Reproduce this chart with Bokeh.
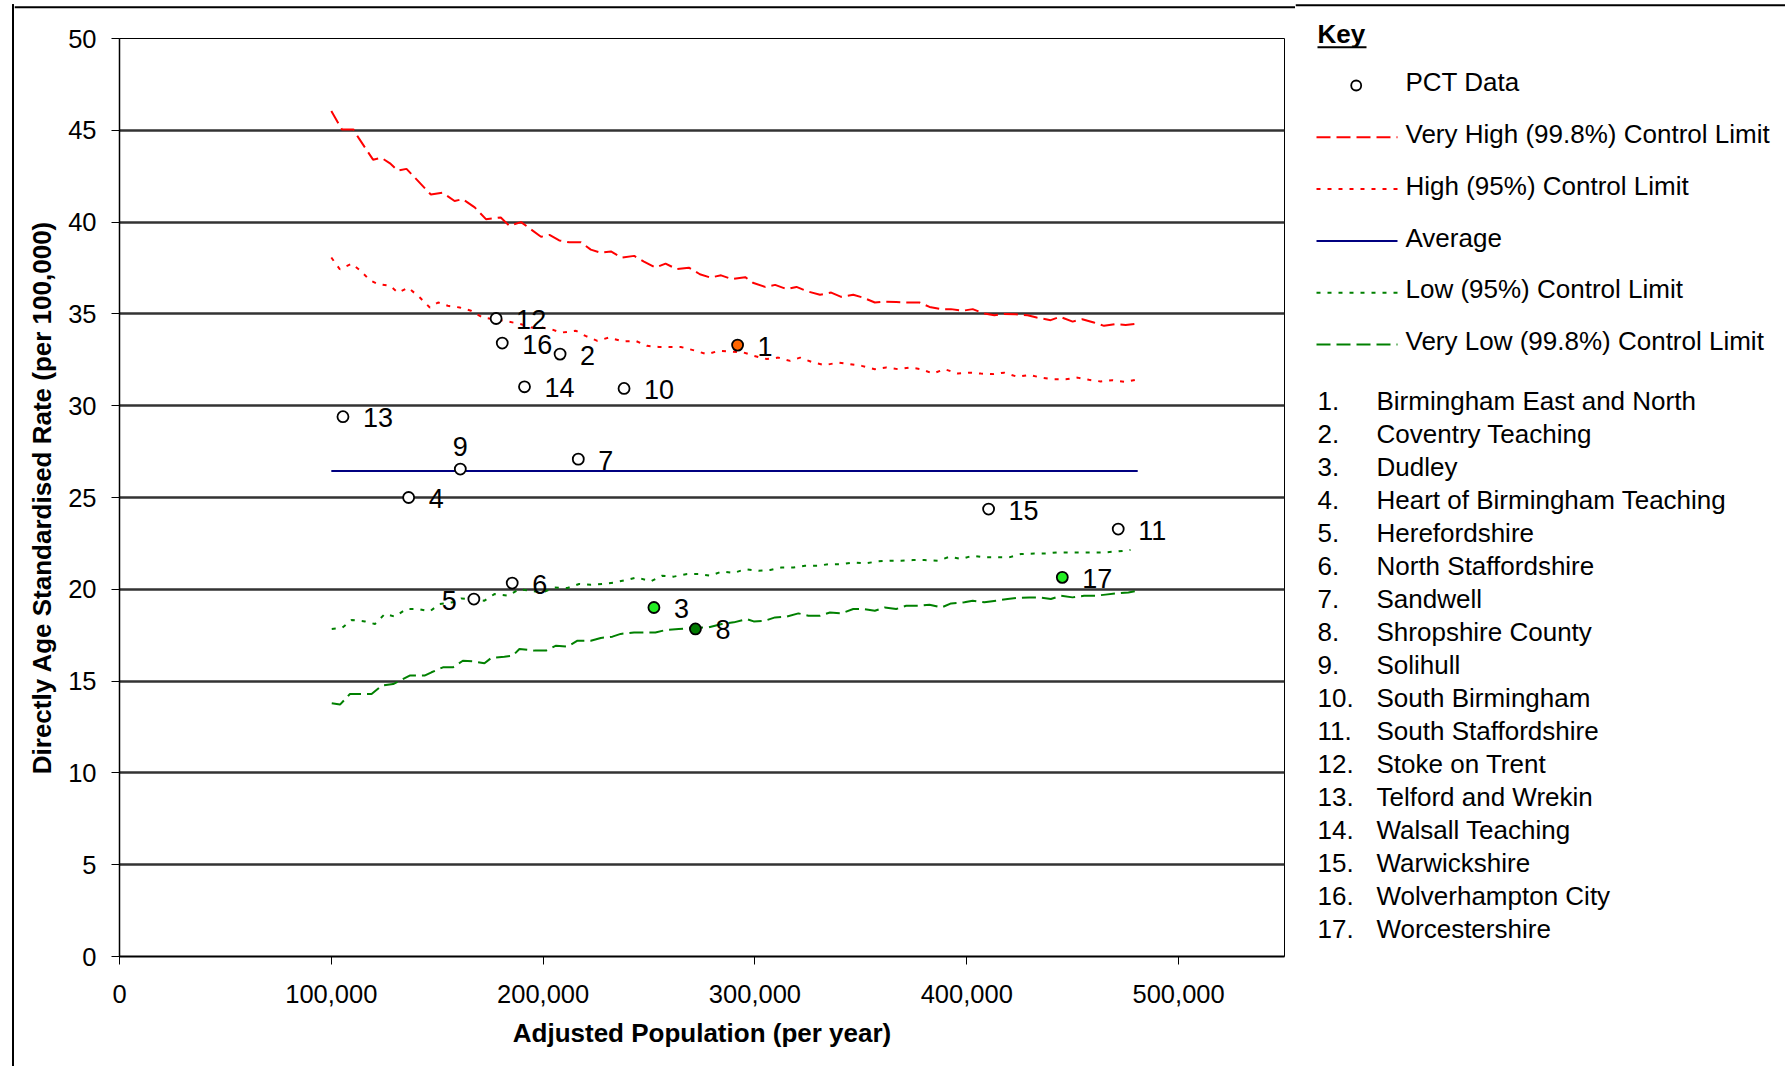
import numpy as np
from bokeh.plotting import figure
from bokeh.layouts import row, column
from bokeh.models import (ColumnDataSource, LabelSet, FixedTicker, NumeralTickFormatter, Range1d)
from bokeh.core.properties import value
from bokeh.embed import file_html
from bokeh.resources import INLINE

# ---------------- data ----------------
pct_ids = ["1", "2", "3", "4", "5", "6", "7", "8", "9", "10", "11", "12", "13", "14", "15", "16", "17"]
pct_names = ["Birmingham East and North", "Coventry Teaching", "Dudley", "Heart of Birmingham Teaching",
             "Herefordshire", "North Staffordshire", "Sandwell", "Shropshire County", "Solihull",
             "South Birmingham", "South Staffordshire", "Stoke on Trent", "Telford and Wrekin",
             "Walsall Teaching", "Warwickshire", "Wolverhampton City", "Worcestershire"]
pct_pop = [291800, 208000, 252300, 136500, 167300, 185400, 216600, 271900, 160900, 238200,
           471500, 177800, 105500, 191200, 410300, 180700, 445100]
pct_rate = [33.30, 32.81, 19.01, 25.00, 19.47, 20.34, 27.09, 17.84, 26.55, 30.94,
            23.28, 34.75, 29.40, 31.03, 24.37, 33.41, 20.65]
pct_fill = ["#FF6600", "white", "#22EE22", "white", "white", "white", "white", "#007A00", "white",
            "white", "white", "white", "white", "white", "white", "white", "#22EE22"]

avg_x = [100000, 480700]
avg_y = [26.45, 26.45]

vh_x = [100, 105, 110.4, 112.8, 119.7, 123.7, 127.7, 131.4, 135.5, 147, 152.6, 158.2, 162, 167.7, 173, 180, 184,
        189.6, 199, 203, 207.6, 212.3, 217.8, 222.5, 227, 232, 237, 243, 247.6, 253, 257.8, 263, 268.8, 274, 279,
        284, 289, 295.4, 299, 304.8, 309.5, 315, 319.6, 325, 330.7, 336, 340.7, 346.4, 351, 356.6, 361, 366.7,
        371.3, 377.7, 382.4, 388, 392.5, 398, 402.8, 408.3, 413, 417.7, 423, 428.7, 433, 439.6, 444, 450, 454.5,
        460, 464.8, 470.2, 475, 480.4]
vh_y = [46.05, 45.05, 45.05, 44.6, 43.4, 43.5, 43.2, 42.8, 42.9, 41.5, 41.6, 41.15, 41.25, 40.8, 40.16, 40.25, 39.8,
        40.0, 39.2, 39.3, 39.0, 38.9, 38.9, 38.5, 38.34, 38.4, 38.07, 38.16, 37.85, 37.52, 37.74, 37.44, 37.52, 37.16,
        36.98, 37.1, 36.9, 37.0, 36.7, 36.47, 36.58, 36.35, 36.47, 36.22, 36.04, 36.16, 35.93, 36.04, 35.89, 35.62,
        35.67, 35.65, 35.62, 35.62, 35.38, 35.26, 35.26, 35.17, 35.26, 35.02, 34.93, 35.0, 34.98, 34.93, 34.8, 34.66,
        34.84, 34.58, 34.71, 34.53, 34.35, 34.44, 34.4, 34.47]

h_x = [100, 104, 109.6, 113.5, 118.2, 122, 127.7, 131.5, 136.3, 141.8, 146.5, 150.4, 155, 160.6, 166, 171.5, 181.8,
       189.6, 194.3, 199, 203.7, 208.4, 215.5, 220, 225.6, 231, 238, 243.7, 249, 254.6, 265, 272, 277.4, 282.9,
       294.6, 299.4, 305.6, 311, 316.6, 321.3, 327.6, 333, 339.3, 344.8, 350.3, 356.6, 362, 367.5, 373, 378.5, 384,
       389.5, 395.8, 401.3, 406.7, 412.2, 417.7, 424, 429.5, 435, 440.5, 446.7, 452.2, 457.7, 463.2, 468.7, 475, 479.6]
h_y = [38.07, 37.43, 37.74, 37.38, 36.84, 36.62, 36.53, 36.16, 36.43, 35.89, 35.35, 35.62, 35.44, 35.35, 35.17, 34.8,
       34.62, 34.44, 34.26, 34.26, 34.17, 33.98, 34.08, 33.8, 33.53, 33.71, 33.5, 33.53, 33.26, 33.2, 33.2, 32.99,
       32.8, 32.99, 32.9, 32.72, 32.54, 32.62, 32.44, 32.62, 32.35, 32.21, 32.35, 32.26, 32.17, 31.99, 32.08, 31.99,
       32.08, 31.99, 31.75, 31.99, 31.75, 31.8, 31.75, 31.72, 31.8, 31.57, 31.68, 31.53, 31.44, 31.44, 31.53, 31.41,
       31.32, 31.39, 31.3, 31.41]

l_x = [100.2, 105, 109.6, 115.9, 120.6, 125.3, 130, 135.5, 141, 146.5, 151.2, 157.4, 161.4, 172.3, 177, 183.3, 188.8,
       194.3, 199.8, 205.3, 211.5, 217, 222.5, 228, 233.5, 239, 244.4, 250.7, 256.2, 261.7, 268, 273.5, 279, 284.4,
       290, 295.4, 301.7, 307.2, 312.6, 318.1, 323.6, 330, 334.6, 340.9, 346.4, 351.9, 358.1, 363.6, 369, 374.6, 380,
       386.4, 391.9, 397.3, 402.8, 408.3, 413.8, 420, 425.5, 431.9, 437.3, 442.8, 448.3, 453.8, 459.3, 464.8, 471, 477.3]
l_y = [17.84, 17.89, 18.33, 18.25, 18.11, 18.66, 18.51, 18.93, 18.93, 18.8, 19.2, 19.29, 19.5, 19.38, 19.74, 19.65,
       20.0, 19.92, 19.83, 20.1, 20.07, 20.29, 20.25, 20.29, 20.37, 20.5, 20.65, 20.43, 20.74, 20.69, 20.83, 20.83,
       20.74, 20.97, 20.89, 21.1, 21.01, 21.05, 21.19, 21.19, 21.28, 21.28, 21.37, 21.37, 21.46, 21.41, 21.52, 21.56,
       21.56, 21.59, 21.59, 21.56, 21.77, 21.65, 21.83, 21.74, 21.74, 21.74, 21.92, 21.95, 21.95, 22.01, 22.01, 22.01,
       22.01, 22.01, 22.06, 22.14]

vl_x = [100.2, 104.1, 108.8, 114.3, 119, 123.8, 129.2, 132.4, 137, 144, 147.3, 152.7, 157.4, 162.1, 166.8, 172.3,
        175.5, 181.7, 185.7, 188.8, 195.9, 201.4, 206.1, 211.5, 216.2, 222.5, 227.2, 232.7, 236.6, 242.9, 247.6, 253,
        257.8, 264, 278.2, 284.4, 290, 296.2, 299.4, 304.8, 309.5, 315, 320.5, 325.2, 330.7, 335.4, 340.9, 346.4, 351,
        356.6, 361.3, 366.7, 371.4, 377.7, 382.4, 388, 392.6, 398.9, 402.8, 408.3, 413.8, 419.3, 424, 429.5, 434.2,
        439.7, 444.4, 449.9, 455.4, 460.8, 465.5, 471, 476.3, 481]
vl_y = [13.79, 13.72, 14.3, 14.3, 14.3, 14.75, 14.84, 15.02, 15.3, 15.3, 15.48, 15.75, 15.75, 16.11, 16.08, 15.97,
        16.26, 16.33, 16.39, 16.75, 16.66, 16.66, 16.93, 16.88, 17.2, 17.2, 17.35, 17.42, 17.57, 17.65, 17.65, 17.65,
        17.78, 17.84, 17.93, 18.11, 18.2, 18.38, 18.25, 18.29, 18.47, 18.51, 18.69, 18.56, 18.56, 18.74, 18.69, 18.93,
        18.93, 18.83, 19.01, 18.93, 19.1, 19.1, 19.16, 19.01, 19.23, 19.29, 19.38, 19.29, 19.38, 19.47, 19.53, 19.56,
        19.56, 19.47, 19.65, 19.56, 19.65, 19.65, 19.71, 19.78, 19.83, 19.92]

y_ticks = [0, 5, 10, 15, 20, 25, 30, 35, 40, 45, 50]
x_ticks = [0, 100000, 200000, 300000, 400000, 500000]

legend_items = ["Very High (99.8%) Control Limit", "High (95%) Control Limit", "Average",
                "Low (95%) Control Limit", "Very Low (99.8%) Control Limit"]

# ---------------- layout geometry (page px) ----------------
FONT = "Liberation Sans"
PAGE_W, PAGE_H = 1785, 1066
LEFT_W = 14          # left strip (outer border)
TOP_H = 10           # top strip (outer border)
MAIN_W = 1281        # main chart canvas width
MAIN_H = PAGE_H - TOP_H
LX0 = LEFT_W + MAIN_W
LEG_W = PAGE_W - LX0
FRAME_L, FRAME_T, FRAME_R, FRAME_B = 119, 38, 1284, 956
BORDER_Y = 4.8


def blank(w, h, xr, yr):
    f = figure(width=w, height=h, output_backend="svg", toolbar_location=None,
               x_range=Range1d(*xr), y_range=Range1d(*yr), x_axis_type=None, y_axis_type=None,
               min_border=0, min_border_left=0, min_border_right=0, min_border_top=0, min_border_bottom=0)
    f.outline_line_color = None
    f.grid.visible = False
    f.background_fill_color = "white"
    f.border_fill_color = "white"
    return f

# outer border strips (page coordinates)
left_strip = blank(LEFT_W, PAGE_H, (0, LEFT_W), (PAGE_H, 0))
left_strip.line([12.5, 12.5], [BORDER_Y - 1, PAGE_H], line_color="black", line_width=2)
left_strip.line([11.5, LEFT_W], [BORDER_Y, BORDER_Y], line_color="black", line_width=2)

top_strip = blank(MAIN_W, TOP_H, (LEFT_W, LX0), (TOP_H, 0))
top_strip.line([LEFT_W, LX0], [BORDER_Y, BORDER_Y], line_color="black", line_width=2)

# ---------------- main chart ----------------
p = figure(width=MAIN_W, height=MAIN_H, output_backend="svg", toolbar_location=None,
           x_range=Range1d(0, 550000), y_range=Range1d(0, 50),
           min_border_left=FRAME_L - LEFT_W, min_border_top=FRAME_T - TOP_H,
           min_border_right=LX0 - FRAME_R, min_border_bottom=PAGE_H - FRAME_B)
p.background_fill_color = "white"
p.border_fill_color = "white"
p.outline_line_color = "black"
p.outline_line_width = 1

p.xgrid.visible = False
p.ygrid.ticker = FixedTicker(ticks=y_ticks)
p.ygrid.grid_line_color = "#333333"
p.ygrid.grid_line_width = 2.5

for ax in (p.xaxis[0], p.yaxis[0]):
    ax.major_tick_out = 8
    ax.major_tick_in = 0
    ax.minor_tick_line_color = None
    ax.major_label_text_font = FONT
    ax.major_label_text_font_size = "25.5px"
    ax.major_label_text_color = "black"
    ax.axis_label_text_font = FONT
    ax.axis_label_text_font_size = "26px"
    ax.axis_label_text_font_style = "bold"
    ax.axis_label_text_color = "black"
    ax.axis_line_color = "black"
    ax.major_tick_line_color = "black"

p.xaxis.ticker = FixedTicker(ticks=x_ticks)
p.xaxis.formatter = NumeralTickFormatter(format="0,0")
p.xaxis.axis_label = "Adjusted Population (per year)"
p.xaxis.major_label_standoff = 20
p.xaxis.axis_label_standoff = 12
p.xaxis.axis_line_width = 2

p.yaxis.ticker = FixedTicker(ticks=y_ticks)
p.yaxis.axis_label = "Directly Age Standardised Rate (per 100,000)"
p.yaxis.major_label_standoff = 15
p.yaxis.axis_label_standoff = 8
p.yaxis.axis_line_width = 1.5

K = 1000
p.line([x * K for x in vh_x], vh_y, line_color="#FF0000", line_width=2, line_dash="14 6")
p.line([x * K for x in h_x], h_y, line_color="#FF0000", line_width=2, line_dash="4 7")
p.line(avg_x, avg_y, line_color="#000080", line_width=2)
p.line([x * K for x in l_x], l_y, line_color="#008000", line_width=2, line_dash="4 7")
p.line([x * K for x in vl_x], vl_y, line_color="#008000", line_width=2, line_dash="14 6")

src = ColumnDataSource(dict(x=pct_pop, y=pct_rate, fill=pct_fill, lab=pct_ids))
p.scatter("x", "y", source=src, size=11, fill_color="fill", line_color="black", line_width=1.8)

# label placement (screen offsets)
dx = [20] * 17
dy = [-1] * 17
align = ["left"] * 17
dx[4], align[4] = -17, "right"            # label 5 to the left
dx[8], dy[8], align[8] = 0, 23, "center"  # label 9 above
lab_src = ColumnDataSource(dict(x=pct_pop, y=pct_rate, lab=pct_ids, dx=dx, dy=dy, al=align))
p.add_layout(LabelSet(x="x", y="y", text="lab", source=lab_src, x_offset="dx", y_offset="dy",
                      text_align="al", text_baseline="middle", text_font=value(FONT),
                      text_font_size="27px", text_color="black"))

# ---------------- key panel (page coordinates, full height) ----------------
q = blank(LEG_W, PAGE_H, (LX0, PAGE_W), (PAGE_H, 0))
q.line([LX0, PAGE_W], [BORDER_Y, BORDER_Y], line_color="black", line_width=2)

def txt(xs, ys, texts, style="normal"):
    q.text(x=xs, y=ys, text=texts, text_font=value(FONT), text_font_size=value("26px"),
           text_font_style=style, text_baseline="middle", text_align="left", text_color="black")

txt([1317], [33.4], ["Key"], style="bold")
q.line([1317, 1366], [46.8, 46.8], line_color="black", line_width=2)

q.scatter([1355.7], [85], size=10, marker="circle", fill_color="white", line_color="black", line_width=1.8)
txt([1405], [81.4], ["PCT Data"])

leg_style = [("#FF0000", "14 6"), ("#FF0000", "4 7"), ("#000080", "solid"), ("#008000", "4 7"), ("#008000", "14 6")]
leg_mid = [133.4 + 51.85 * i for i in range(len(legend_items))]
for m, (col, dash) in zip(leg_mid, leg_style):
    q.line([1316, 1397], [m + 3.3, m + 3.3], line_color=col, line_width=2, line_dash=dash)
txt([1405] * len(legend_items), leg_mid, legend_items)

list_mid = [400.7 + 33.0 * i for i in range(len(pct_ids))]
txt([1317] * len(pct_ids), list_mid, [n + "." for n in pct_ids])
txt([1376] * len(pct_ids), list_mid, pct_names)

layout = row(left_strip, column(top_strip, row(p)), q)
open("out.html", "w").write(file_html(layout, INLINE))
